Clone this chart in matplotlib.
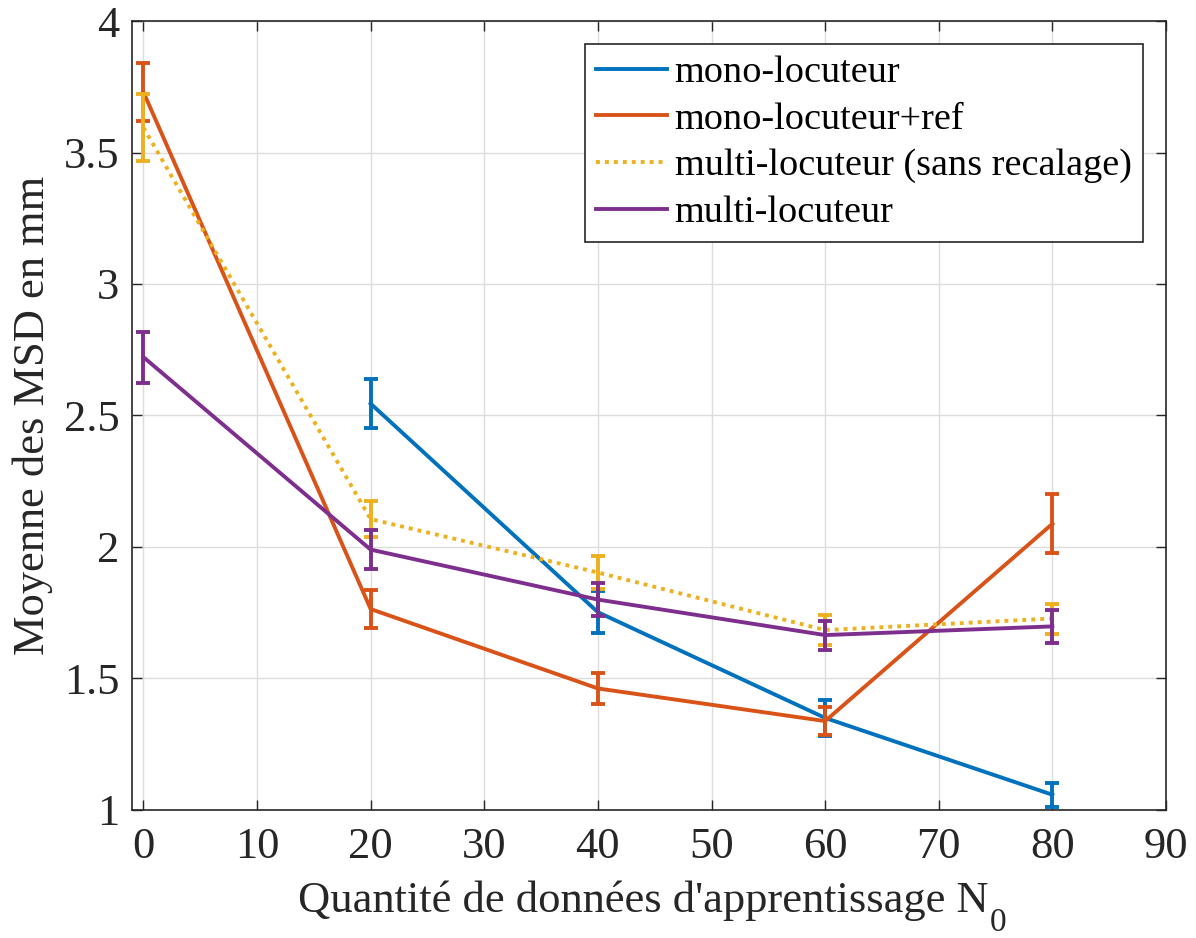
import numpy as np
import matplotlib
matplotlib.use("Agg")
import matplotlib.pyplot as plt

plt.rcParams['font.family'] = ['Liberation Serif', 'DejaVu Serif']

# quantite de donnees d'apprentissage
n0 = [0, 20, 40, 60, 80]

# moyenne des MSD (mm) et demi-largeur des barres d'erreur
mono_x = [20, 40, 60, 80]
mono = [2.545, 1.752, 1.350, 1.058]
mono_err = [0.093, 0.080, 0.068, 0.046]

mono_ref = [3.730, 1.764, 1.462, 1.338, 2.088]
mono_ref_err = [0.112, 0.073, 0.060, 0.053, 0.112]

multi_sr = [3.595, 2.106, 1.903, 1.684, 1.728]
multi_sr_err = [0.127, 0.068, 0.063, 0.057, 0.057]

multi = [2.722, 1.990, 1.800, 1.665, 1.698]
multi_err = [0.097, 0.075, 0.063, 0.055, 0.062]

labels = ["mono-locuteur", "mono-locuteur+ref",
          "multi-locuteur (sans recalage)", "multi-locuteur"]
colors = ["#0072BD", "#D95319", "#EDB120", "#7E2F8E"]

fig = plt.figure(figsize=(11.96, 9.38), dpi=100)
ax = fig.add_axes([0.1104, 0.1365, 0.9749 - 0.1104, 0.9776 - 0.1365])

lw = 2.8
series = [(mono_x, mono, mono_err, '-'),
          (n0, mono_ref, mono_ref_err, '-'),
          (n0, multi_sr, multi_sr_err, (0, (1, 1.3))),
          (n0, multi, multi_err, '-')]

handles = []
for (x, y, e, ls), c, lab in zip(series, colors, labels):
    h, = ax.plot(x, y, color=c, lw=lw, ls=ls, label=lab, zorder=3)
    ax.errorbar(x, y, yerr=e, fmt='none', ecolor=c, elinewidth=lw,
                capsize=4.8, capthick=lw, zorder=3)
    handles.append(h)

ax.set_xlim(-1, 90)
ax.set_ylim(1, 4)
ax.set_xticks(np.arange(0, 91, 10))
ax.set_yticks([1, 1.5, 2, 2.5, 3, 3.5, 4])
ax.set_yticklabels(["1", "1.5", "2", "2.5", "3", "3.5", "4"])
ax.grid(True, color="#dcdcdc", lw=1)
ax.set_axisbelow(True)
ax.tick_params(direction='in', length=7, width=1, labelsize=32,
               colors="#262626", top=True, right=True, pad=9)
ax.tick_params(axis='x', pad=12)
for s in ax.spines.values():
    s.set_color("#262626")
    s.set_linewidth(1.2)

# N_0 : subscript drawn as its own text, large and low like the tex version
xl = ax.set_xlabel("Quantité de données d'apprentissage N", fontsize=32,
                   color="#262626", labelpad=10)
xl.set_x(0.494)
ax.annotate("0", xy=(1, 0), xycoords=xl, xytext=(1, 10),
            textcoords='offset points', ha='left', va='top',
            fontsize=24, color="#262626")
ax.set_ylabel("Moyenne des MSD en mm", fontsize=32, color="#262626",
              labelpad=8)

leg = ax.legend(handles=handles, loc='upper right',
                bbox_to_anchor=(1143 / 1196, 1 - 44 / 938),
                bbox_transform=fig.transFigure, borderaxespad=0,
                fontsize=27.5, fancybox=False, framealpha=1,
                edgecolor="#262626", handlelength=1.85, handletextpad=0.2,
                labelspacing=0.31, borderpad=0.3)
leg.get_frame().set_linewidth(1.2)

fig.savefig("out.png", dpi=100)
